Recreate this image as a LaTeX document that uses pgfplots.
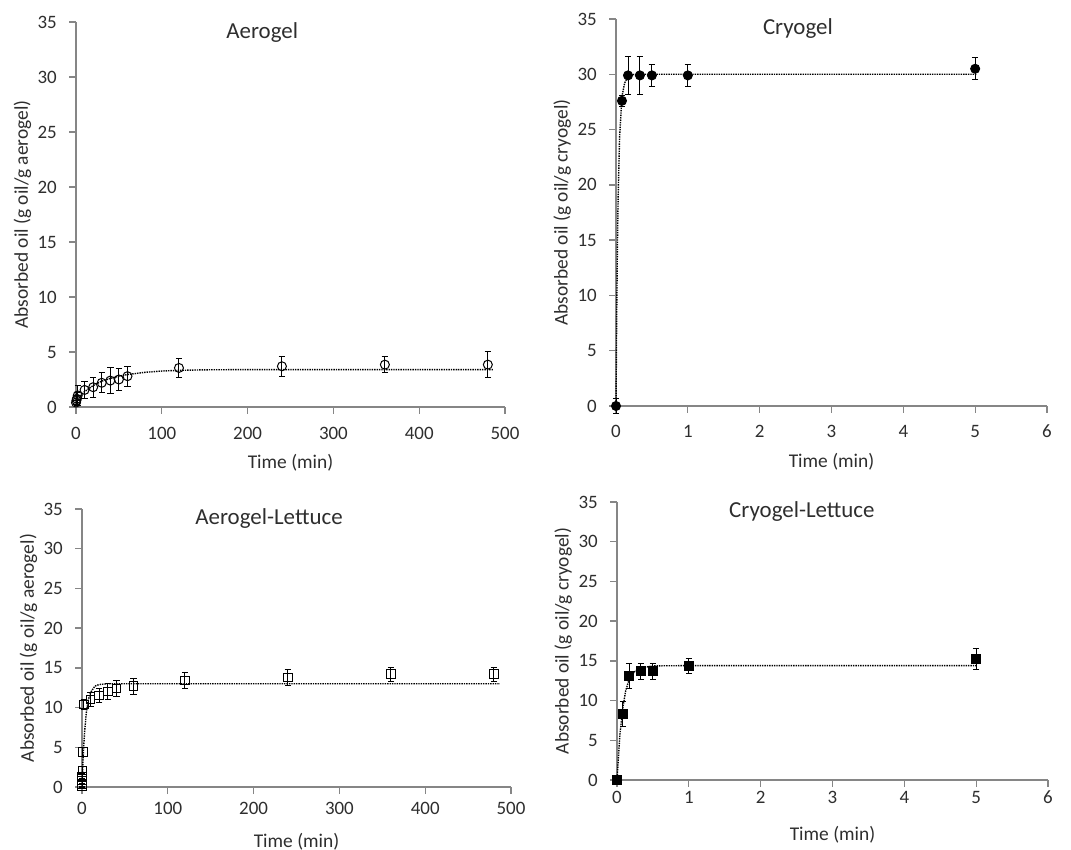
\documentclass[border=0pt]{standalone}
\usepackage{fontspec}
\setmainfont{Carlito}
\usepackage{pgfplots}
\pgfplotsset{compat=1.18}
\definecolor{txt}{HTML}{2E2E2E}
\definecolor{axl}{HTML}{868686}
\pgfplotsset{
  panel/.style={
    scale only axis,
    axis lines*=left,
    tick align=outside,
    major tick length=7bp,
    axis line style={axl, line width=1.3bp},
    every tick/.style={axl, line width=1.3bp},
    tick label style={font=\fontsize{19}{22}\selectfont, text=txt},
    /pgf/number format/assume math mode=true,
    label style={font=\fontsize{19.5}{22}\selectfont, text=txt},
    title style={font=\fontsize{23}{26}\selectfont, text=txt, anchor=center, yshift=0pt},
    ymin=0, ymax=35, ytick={0,5,...,35},
    clip=false,
    ylabel style={at={(axis description cs:-0.125,0.5)}, anchor=center},
    yticklabel style={anchor=east, inner sep=0pt, xshift=-12bp},
    xticklabel style={anchor=north, inner sep=0pt},
    xlabel={Time (min)},
  },
  fit/.style={black, line width=1.4bp, densely dotted, no marks},
  pts/.style={only marks, line width=1bp,
    error bars/y dir=both, error bars/y explicit,
    error bars/error bar style={black, line width=1bp},
    error bars/error mark options={rotate=90, mark size=3.2bp, line width=1bp, black}},
}
\begin{document}
\begin{tikzpicture}
\path[use as bounding box] (0bp,0bp) rectangle (1071bp,850bp);

% Aerogel
\begin{axis}[panel, at={(76bp,443bp)}, anchor=south west, width=429bp, height=385bp,
  xmin=0, xmax=500, xtick={0,100,...,500},
  xticklabel style={yshift=-13bp},
  xlabel style={at={(axis description cs:0.5,0)}, anchor=center, yshift=-56bp},
  title={Aerogel}, title style={at={(axis description cs:0.434,0.957)}},
  ylabel={Absorbed oil (g oil/g aerogel)}]
\addplot[fit] coordinates {(0,0.5) (5,1.0) (10,1.4) (20,1.95) (30,2.35) (40,2.6) (50,2.8) (60,2.95) (80,3.15) (100,3.27) (120,3.33) (150,3.38) (200,3.4) (486,3.4)};
\addplot[pts, mark=o, mark size=4.5bp, mark options={fill=white, draw=black, line width=1bp}] coordinates {
 (0,0.4) +- (0,0.2)
 (0.5,0.6) +- (0,0.4)
 (1,0.75) +- (0,0.6)
 (2,1.05) +- (0,0.9)
 (10,1.55) +- (0,0.8)
 (20,1.8) +- (0,0.9)
 (30,2.2) +- (0,0.9)
 (40,2.4) +- (0,1.2)
 (50,2.5) +- (0,1.0)
 (60,2.8) +- (0,0.9)
 (120,3.55) +- (0,0.9)
 (240,3.7) +- (0,0.9)
 (360,3.85) +- (0,0.7)
 (480,3.85) +- (0,1.2)
};
\end{axis}

% Cryogel
\begin{axis}[panel, at={(616bp,444bp)}, anchor=south west, width=431bp, height=387bp,
  xmin=0, xmax=6, xtick={0,1,...,6},
  xticklabel style={yshift=-12bp},
  xlabel style={at={(axis description cs:0.5,0)}, anchor=center, yshift=-56bp},
  title={Cryogel}, title style={at={(axis description cs:0.422,0.961)}},
  ylabel={Absorbed oil (g oil/g cryogel)}]
\addplot[fit] coordinates {(0,0) (0.01,8.5) (0.02,14.6) (0.03,19.0) (0.05,24.3) (0.083,28.0) (0.12,29.2) (0.167,29.8) (0.25,30) (5.02,30)};
\addplot[pts, mark=*, mark size=4.5bp, mark options={fill=black, draw=black}] coordinates {
 (0,0) +- (0,0.7)
 (0.083,27.6) +- (0,0.5)
 (0.167,29.9) +- (0,1.7)
 (0.333,29.9) +- (0,1.7)
 (0.5,29.9) +- (0,1.0)
 (1,29.9) +- (0,1.0)
 (5,30.5) +- (0,1.0)
};
\end{axis}

% Aerogel-Lettuce
\begin{axis}[panel, at={(82bp,63bp)}, anchor=south west, width=429bp, height=278bp,
  xmin=0, xmax=500, xtick={0,100,...,500},
  xticklabel style={yshift=-8bp},
  xlabel style={at={(axis description cs:0.5,0)}, anchor=center, yshift=-55bp},
  title={Aerogel-Lettuce}, title style={at={(axis description cs:0.436,0.943)}},
  ylabel={Absorbed oil (g oil/g aerogel)}]
\addplot[fit] coordinates {(0,0) (1,2.9) (2,5.1) (3,6.9) (5,9.3) (7,10.8) (10,11.9) (15,12.7) (20,12.9) (30,13.0) (487,13.0)};
\addplot[pts, mark=square, mark size=4.3bp, mark options={fill=white, draw=black, line width=1bp}] coordinates {
 (0,0.1) +- (0,0.2)
 (0.083,0.4) +- (0,0.3)
 (0.167,0.8) +- (0,0.3)
 (0.333,1.3) +- (0,0.4)
 (0.5,2.1) +- (0,0.5)
 (1,4.4) +- (0,0.6)
 (2,10.4) +- (0,0.6)
 (10,11.0) +- (0,0.9)
 (20,11.5) +- (0,0.9)
 (30,12.0) +- (0,1.0)
 (40,12.4) +- (0,1.0)
 (60,12.7) +- (0,1.0)
 (120,13.4) +- (0,1.0)
 (240,13.8) +- (0,1.0)
 (360,14.2) +- (0,0.9)
 (480,14.2) +- (0,0.9)
};
\end{axis}

% Cryogel-Lettuce
\begin{axis}[panel, at={(617bp,70bp)}, anchor=south west, width=431bp, height=278bp,
  xmin=0, xmax=6, xtick={0,1,...,6},
  xticklabel style={yshift=-4bp},
  xlabel style={at={(axis description cs:0.5,0)}, anchor=center, yshift=-55bp},
  title={Cryogel-Lettuce}, title style={at={(axis description cs:0.429,0.943)}},
  ylabel={Absorbed oil (g oil/g cryogel)}]
\addplot[fit] coordinates {(0,0) (0.04,5.7) (0.083,9.2) (0.12,11.2) (0.167,12.6) (0.25,13.7) (0.333,14.1) (0.5,14.37) (1,14.4) (5,14.4)};
\addplot[pts, mark=square*, mark size=4.3bp, mark options={fill=black, draw=black}] coordinates {
 (0,0) +- (0,0.2)
 (0.083,8.3) +- (0,1.6)
 (0.167,13.1) +- (0,1.6)
 (0.333,13.7) +- (0,1.0)
 (0.5,13.7) +- (0,1.0)
 (1,14.35) +- (0,1.0)
 (5,15.2) +- (0,1.3)
};
\end{axis}
\end{tikzpicture}
\end{document}
